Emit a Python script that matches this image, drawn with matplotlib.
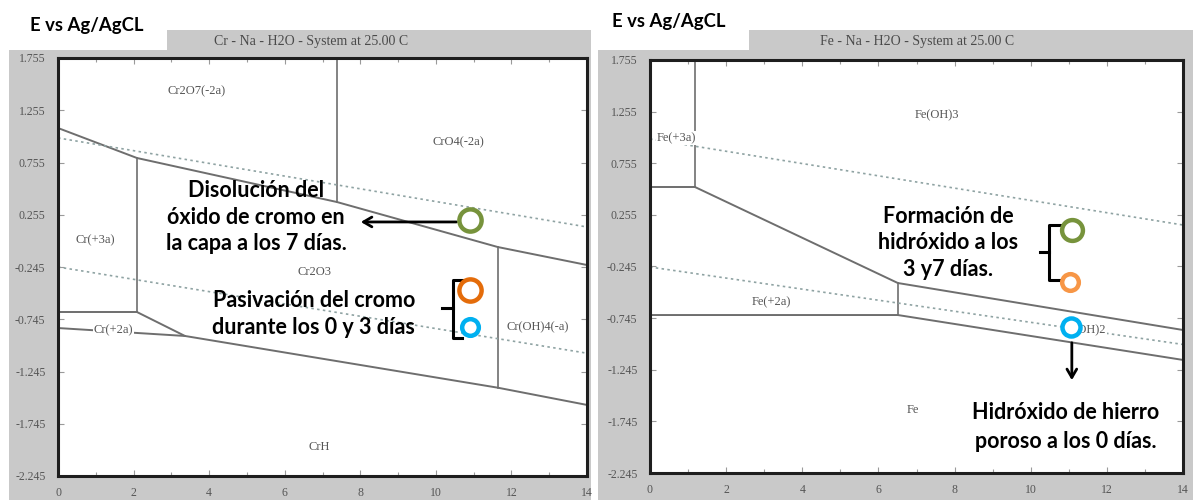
import matplotlib.pyplot as plt
from matplotlib.patches import Rectangle

W, H = 1193, 500
GRIS = "#c9c9c9"
LINEA = "#6e6e6e"
AGUA = "#8fa3a3"
SERIF = "Liberation Serif"

# Ejes comunes (pH y potencial)
ph_ticks = [0, 2, 4, 6, 8, 10, 12, 14]
e_ticks = [1.755, 1.255, 0.755, 0.255, -0.245, -0.745, -1.245, -1.745, -2.245]
e_labels = ["1.755", "1.255", "0.755", "0.255", "-0.245", "-0.745", "-1.245", "-1.745", "-2.245"]

# --- Diagrama Cr-Na-H2O ---
cr_sup_x = [0, 2.09, 7.38, 11.64, 14]
cr_sup_y = [1.085, 0.798, 0.377, -0.054, -0.226]
cr_inf_x = [2.09, 3.36, 6.4, 11.64, 14]
cr_inf_y = [-0.676, -0.905, -1.087, -1.40, -1.565]
cr_2a_x = [0, 3.36]
cr_2a_y = [-0.829, -0.905]
cr_3a_x = [0, 2.09]
cr_3a_y = [-0.676, -0.676]
cr_vert = [(2.09, 0.798, -0.676), (7.38, 1.755, 0.377), (11.64, -0.054, -1.40)]
cr_agua_sup = ([0, 14], [0.99, 0.138])
cr_agua_inf = ([0, 14], [-0.245, -1.07])
cr_especies = ["Cr2O7(-2a)", "CrO4(-2a)", "Cr(+3a)", "Cr2O3", "Cr(OH)4(-a)", "Cr(+2a)", "CrH"]
cr_esp_x = [3.68, 10.6, 0.98, 6.8, 12.7, 1.46, 6.9]
cr_esp_y = [1.44, 0.95, 0.013, -0.29, -0.82, -0.85, -1.97]
cr_pts_x = [10.9, 10.9, 10.9]
cr_pts_y = [0.205, -0.465, -0.82]
cr_pts_col = ["#77933c", "#e46c0a", "#00b0f0"]
cr_pts_size = [16, 16, 12]

# --- Diagrama Fe-Na-H2O ---
fe_3a_x = [0, 1.18]
fe_3a_y = [0.525, 0.525]
fe_sup_x = [1.18, 6.51, 14]
fe_sup_y = [0.525, -0.405, -0.86]
fe_2a_x = [0, 6.51, 14]
fe_2a_y = [-0.715, -0.715, -1.15]
fe_vert = [(1.18, 1.755, 0.525), (6.51, -0.405, -0.715)]
fe_agua_sup = ([0, 14], [0.99, 0.157])
fe_agua_inf = ([0, 14], [-0.25, -1.0])
fe_especies = ["Fe(OH)3", "Fe(+3a)", "Fe(+2a)", "Fe(OH)2", "Fe"]
fe_esp_x = [7.54, 0.7, 3.2, 11.4, 6.9]
fe_esp_y = [1.22, 1.0, -0.59, -0.86, -1.63]
fe_pts_x = [11.08, 11.03, 11.07]
fe_pts_y = [0.109, -0.395, -0.83]
fe_pts_col = ["#77933c", "#f79646", "#00b0f0"]
fe_pts_size = [15, 12, 13]


def px(x0, y0, x1, y1):
    # caja en pixeles (origen arriba-izquierda) -> fraccion de figura
    return [x0 / W, 1 - y1 / H, (x1 - x0) / W, (y1 - y0) / H]


fig = plt.figure(figsize=(W / 100, H / 100), dpi=100)
fig.patch.set_facecolor("white")

# fondo: marcos grises y barras de titulo
fondo = fig.add_axes([0, 0, 1, 1], zorder=-5)
fondo.set_xlim(0, W)
fondo.set_ylim(H, 0)
fondo.axis("off")
for x0, y0, x1, y1 in [(9, 50, 591, 500), (167, 30, 591, 50), (598, 50, 1193, 500), (749, 30, 1193, 50)]:
    fondo.add_patch(Rectangle((x0, y0), x1 - x0, y1 - y0, facecolor=GRIS, edgecolor="none"))

fig.text(311 / W, 1 - 41 / H, "Cr - Na - H2O - System at 25.00 C", ha="center", va="center",
         family=SERIF, fontsize=10, color="#4a4a4a")
fig.text(917 / W, 1 - 41 / H, "Fe - Na - H2O - System at 25.00 C", ha="center", va="center",
         family=SERIF, fontsize=10, color="#4a4a4a")
fig.text(30 / W, 1 - 25 / H, "E vs Ag/AgCL", ha="left", va="center",
         family="Lato", weight="bold", fontsize=13.3, color="black")
fig.text(612 / W, 1 - 22 / H, "E vs Ag/AgCL", ha="left", va="center",
         family="Lato", weight="bold", fontsize=13.3, color="black")


def preparar(ax):
    ax.set_xlim(0, 14)
    ax.set_ylim(-2.245, 1.755)
    ax.set_xticks(ph_ticks)
    ax.set_xticks(range(15), minor=True)
    ax.set_yticks(e_ticks)
    ax.set_yticklabels(e_labels)
    ax.tick_params(which="both", direction="in", top=True, right=True, colors="#9a9a9a",
                   labelcolor="#555555", labelsize=8.5, length=4, width=0.8)
    ax.tick_params(which="minor", length=3)
    ax.tick_params(axis="y", pad=9)
    ax.tick_params(axis="x", pad=8)
    for lab in ax.get_xticklabels() + ax.get_yticklabels():
        lab.set_family(SERIF)
    for s in ax.spines.values():
        s.set_linewidth(2.2)
        s.set_color("#1e1e1e")
    ax.set_facecolor("white")


def bold(ax, x, y, texto, ls):
    ax.text(x, y, texto, ha="center", va="center", family="Lato", weight="bold",
            fontsize=15.5, linespacing=ls, color="black")


ax1 = fig.add_axes(px(58, 58, 587, 476))
preparar(ax1)
for xs, ys in [(cr_sup_x, cr_sup_y), (cr_inf_x, cr_inf_y), (cr_2a_x, cr_2a_y), (cr_3a_x, cr_3a_y)]:
    ax1.plot(xs, ys, color=LINEA, lw=1.4)
for x, y0, y1 in cr_vert:
    ax1.plot([x, x], [y0, y1], color=LINEA, lw=1.2)
for xs, ys in [cr_agua_sup, cr_agua_inf]:
    ax1.plot(xs, ys, color=AGUA, lw=1.2, ls=(0, (1.5, 2)))
for t, x, y in zip(cr_especies, cr_esp_x, cr_esp_y):
    ax1.text(x, y, t, ha="center", va="center", family=SERIF, fontsize=9,
             color="#555555", bbox=dict(facecolor="white", edgecolor="none", pad=0.5))
for x, y, c, s in zip(cr_pts_x, cr_pts_y, cr_pts_col, cr_pts_size):
    ax1.plot(x, y, "o", ms=s, mfc="white", mec=c, mew=3.2, zorder=5)

ax1.annotate("", xy=(7.94, 0.186), xytext=(10.62, 0.186),
             arrowprops=dict(arrowstyle="->,head_length=0.6,head_width=0.35", lw=2, color="black"))
bold(ax1, 5.24, 0.233, "Disolución del\nóxido de cromo en\nla capa a los 7 días.", 1.32)
bold(ax1, 6.77, -0.695, "Pasivación del cromo\ndurante los 0 y 3 días", 1.3)
# llave
ax1.plot([10.69, 10.45, 10.45, 10.69], [-0.37, -0.37, -0.925, -0.925], color="black", lw=2.2)
ax1.plot([10.16, 10.45], [-0.64, -0.64], color="black", lw=2.2)

ax2 = fig.add_axes(px(650, 60, 1183, 473))
preparar(ax2)
for xs, ys in [(fe_3a_x, fe_3a_y), (fe_sup_x, fe_sup_y), (fe_2a_x, fe_2a_y)]:
    ax2.plot(xs, ys, color=LINEA, lw=1.4)
for x, y0, y1 in fe_vert:
    ax2.plot([x, x], [y0, y1], color=LINEA, lw=1.2)
for xs, ys in [fe_agua_sup, fe_agua_inf]:
    ax2.plot(xs, ys, color=AGUA, lw=1.2, ls=(0, (1.5, 2)))
for t, x, y in zip(fe_especies, fe_esp_x, fe_esp_y):
    ax2.text(x, y, t, ha="center", va="center", family=SERIF, fontsize=9,
             color="#555555", bbox=dict(facecolor="white", edgecolor="none", pad=0.5))
for x, y, c, s in zip(fe_pts_x, fe_pts_y, fe_pts_col, fe_pts_size):
    ax2.plot(x, y, "o", ms=s, mfc="white", mec=c, mew=3.2, zorder=5)

ax2.annotate("", xy=(11.08, -1.373), xytext=(11.08, -0.957),
             arrowprops=dict(arrowstyle="->,head_length=0.6,head_width=0.35", lw=2, color="black"))
bold(ax2, 7.83, -0.017, "Formación de\nhidróxido a los\n3 y7 días.", 1.35)
bold(ax2, 10.93, -1.80, "Hidróxido de hierro\nporoso a los 0 días.", 1.45)
ax2.plot([10.77, 10.48, 10.48, 10.77], [0.157, 0.157, -0.376, -0.376], color="black", lw=2.2)
ax2.plot([10.24, 10.48], [-0.105, -0.105], color="black", lw=2.2)

fig.savefig("out.png", dpi=100)
